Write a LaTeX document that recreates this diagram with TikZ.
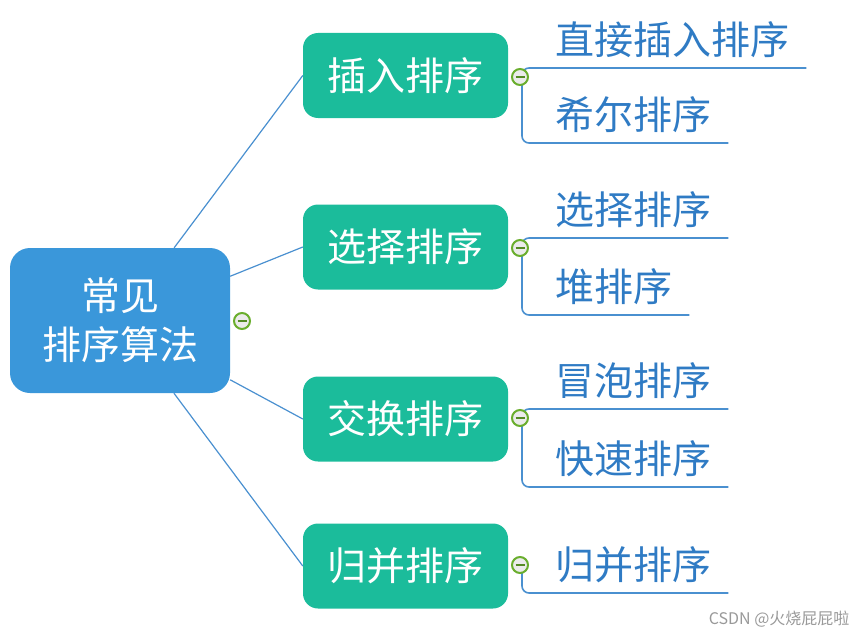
\documentclass[tikz,border=0pt]{standalone}
\usepackage{fontspec}
\usepackage{xcolor}
\usetikzlibrary{positioning}
\newfontfamily\cjk{Noto Sans CJK SC}
\definecolor{rootblue}{HTML}{3A97DA}
\definecolor{boxgreen}{HTML}{1BBC9B}
\definecolor{leafblue}{HTML}{2F7BC4}
\definecolor{linkblue}{HTML}{4A90D0}
\definecolor{togglegreen}{HTML}{6AAE2E}
\tikzset{
    rootbox/.style={rectangle, rounded corners=20pt, fill=rootblue, text=white, minimum width=220pt, minimum height=145pt, align=center, font=\cjk\fontsize{39}{49}\selectfont},
    sortbox/.style={rectangle, rounded corners=15pt, fill=boxgreen, text=white, minimum width=205pt, minimum height=85pt, font=\cjk\fontsize{39}{46}\selectfont},
    leaf/.style={anchor=south west, inner xsep=17pt, inner ysep=13pt, text depth=0pt, text=leafblue, font=\cjk\fontsize{39}{46}\selectfont},
    toggle/.style={circle, draw=togglegreen, line width=2pt, fill=black!8, minimum size=16pt, inner sep=0pt,
        path picture={\draw[togglegreen!80!black, line width=2.4pt] ([xshift=-4.5pt]path picture bounding box.center) -- ([xshift=4.5pt]path picture bounding box.center);}},
    branch/.style={draw=linkblue, line width=1.2pt},
    leafline/.style={draw=linkblue, line width=1.6pt, rounded corners=7pt}
}

\begin{document}
\begin{tikzpicture}[x=1pt, y=-1pt]
    \useasboundingbox (0,0) rectangle (857,634);

    % root and the four groups
    \node[rootbox] (root) at (120,320.5) {常见\\排序算法};
    \node[toggle] (t0) at (242,321) {};

    \node[sortbox] (insert) at (405.5,75.5) {插入排序};
    \node[sortbox] (select) at (405.5,247) {选择排序};
    \node[sortbox] (swap) at (405.5,419) {交换排序};
    \node[sortbox] (merge) at (405.5,566) {归并排序};

    \draw[branch] (root) -- (insert.west);
    \draw[branch] (root) -- (select.west);
    \draw[branch] (root) -- (swap.west);
    \draw[branch] (root) -- (merge.west);

    % leaves
    \node[leaf] (direct) at (538,68) {直接插入排序};
    \node[leaf] (shell) at (538,143) {希尔排序};
    \node[leaf] (simple) at (538,238) {选择排序};
    \node[leaf] (heap) at (538,315) {堆排序};
    \node[leaf] (bubble) at (538,409) {冒泡排序};
    \node[leaf] (quick) at (538,487) {快速排序};
    \node[leaf] (mergeleaf) at (538,593) {归并排序};

    \coordinate (s1) at (522,77);
    \coordinate (s2) at (522,248);
    \coordinate (s3) at (522,418);
    \coordinate (s4) at (522,565);

    \draw[leafline] (s1) |- (direct.south east);
    \draw[leafline] (s1) |- (shell.south east);
    \draw[leafline] (s2) |- (simple.south east);
    \draw[leafline] (s2) |- (heap.south east);
    \draw[leafline] (s3) |- (bubble.south east);
    \draw[leafline] (s3) |- (quick.south east);
    \draw[leafline] (s4) |- (mergeleaf.south east);

    \node[toggle] (t1) at (520,77) {};
    \node[toggle] (t2) at (520,248) {};
    \node[toggle] (t3) at (520,418) {};
    \node[toggle] (t4) at (520,565) {};

    \node[anchor=east, text=black!40, font=\cjk\fontsize{16}{18}\selectfont] (mark) at (853,619) {CSDN @火烧屁屁啦};
\end{tikzpicture}
\end{document}
